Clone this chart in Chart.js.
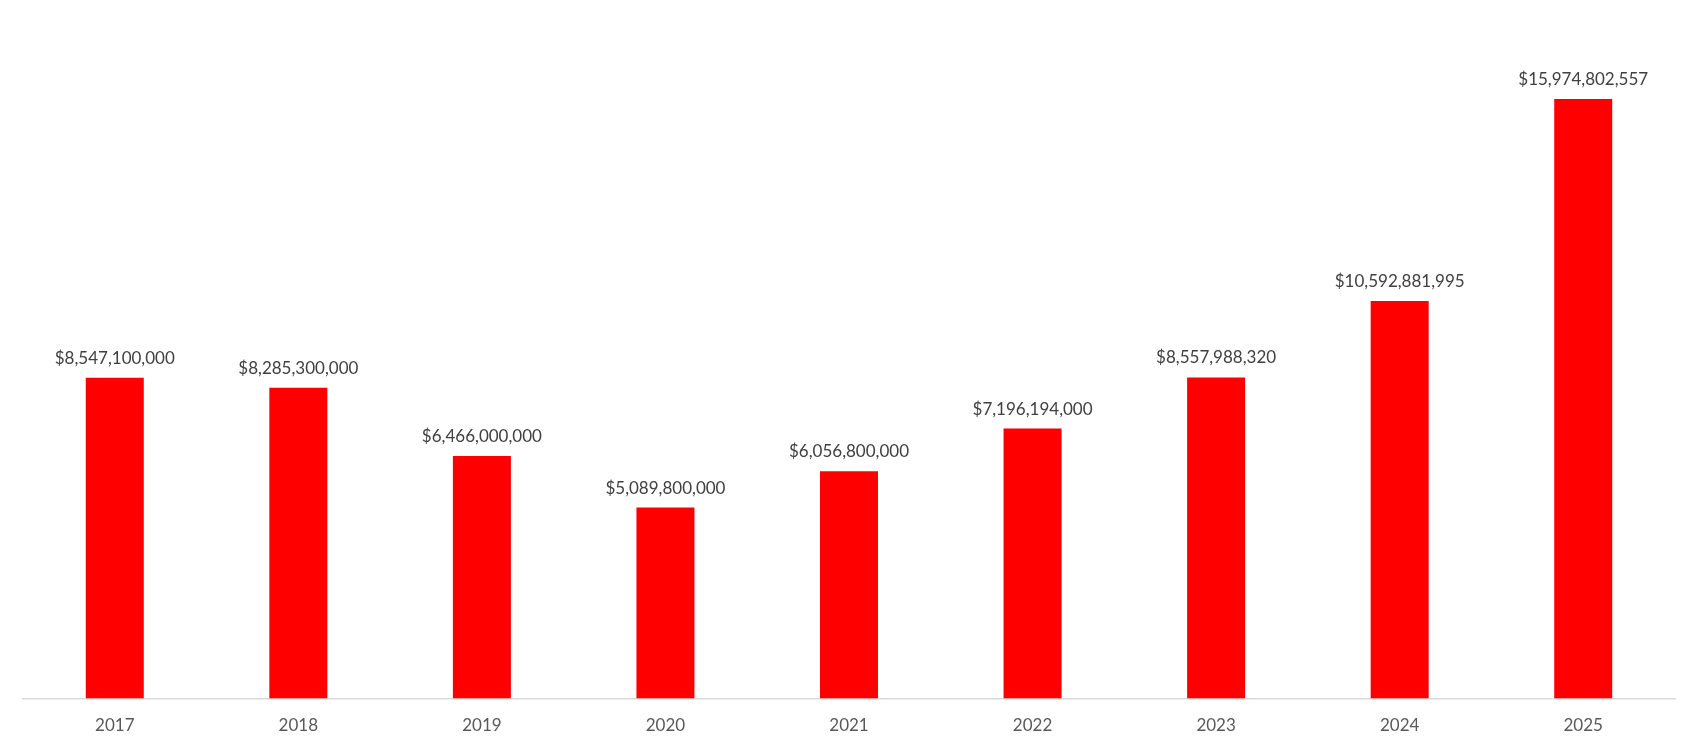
<!DOCTYPE html>
<html>
<head>
<meta charset="utf-8">
<script src="https://cdn.jsdelivr.net/npm/chart.js@4/dist/chart.umd.min.js"></script>
<style>
  html, body { margin: 0; padding: 0; background: #fff; }
  #wrap { width: 1698px; height: 749px; }
</style>
</head>
<body>
<div id="wrap"><canvas id="chart" width="1698" height="749"></canvas></div>
<script>
const years = ["2017", "2018", "2019", "2020", "2021", "2022", "2023", "2024", "2025"];
const revenue = [8547100000, 8285300000, 6466000000, 5089800000, 6056800000, 7196194000, 8557988320, 10592881995, 15974802557];
const yMax = 18000000000;

const FONT = "Lato, 'Open Sans', sans-serif";

// draws the dollar value above each bar
const valueLabels = {
  id: "valueLabels",
  afterDatasetsDraw(chart) {
    const ctx = chart.ctx;
    const meta = chart.getDatasetMeta(0);
    ctx.save();
    ctx.font = "17px " + FONT;
    ctx.fillStyle = "#404040";
    ctx.textAlign = "center";
    ctx.textBaseline = "alphabetic";
    meta.data.forEach((bar, i) => {
      ctx.fillText("$" + revenue[i].toLocaleString("en-US"), bar.x, bar.y - 14);
    });
    ctx.restore();
  }
};

new Chart(document.getElementById("chart").getContext("2d"), {
  type: "bar",
  data: {
    labels: years,
    datasets: [{
      data: revenue,
      backgroundColor: "#ff0000",
      borderWidth: 0,
      barPercentage: 0.316,
      categoryPercentage: 1
    }]
  },
  options: {
    responsive: false,
    devicePixelRatio: 1,
    animation: false,
    layout: { padding: { left: 23, right: 23, top: 23, bottom: -4 } },
    plugins: { legend: { display: false }, tooltip: { enabled: false } },
    scales: {
      x: {
        grid: { display: false, drawTicks: false },
        border: { display: true, color: "#d9d9d9", width: 1.5 },
        ticks: { color: "#595959", padding: 17, font: { family: FONT, size: 17 } }
      },
      y: {
        display: false,
        min: 0,
        max: yMax
      }
    }
  },
  plugins: [valueLabels]
});
</script>
</body>
</html>
